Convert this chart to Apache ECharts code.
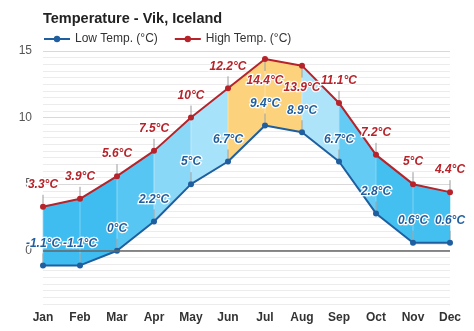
<!DOCTYPE html>
<html>
<head>
<meta charset="utf-8">
<script src="https://cdn.jsdelivr.net/npm/echarts@6/dist/echarts.min.js"></script>
<style>
html,body{margin:0;padding:0;background:#fff;}
#chart{width:474px;height:331px;}
</style>
</head>
<body>
<div id="chart"></div>
<script>
var months = ['Jan','Feb','Mar','Apr','May','Jun','Jul','Aug','Sep','Oct','Nov','Dec'];
var lowTemp = [-1.1, -1.1, 0, 2.2, 5, 6.7, 9.4, 8.9, 6.7, 2.8, 0.6, 0.6];
var highTemp = [3.3, 3.9, 5.6, 7.5, 10, 12.2, 14.4, 13.9, 11.1, 7.2, 5, 4.4];
var yTickLabels = [0, 5, 10, 15];

var highLabelBelow = ['Jul', 'Aug'];
var segColors = ['#3fbdf0','#3fbdf0','#58c6f2','#8ad8f7','#a6e2f9','#fcd37c','#fcd37c','#ade4fa','#64ccf4','#43bff0','#43bff0'];
var LOW_COLOR = '#1f5f9f';
var HIGH_COLOR = '#b7232a';
var FONT = '"Liberation Sans", Arial, sans-serif';

var fillData = [];
for (var i = 0; i < months.length - 1; i++) {
  fillData.push([i, lowTemp[i], highTemp[i], lowTemp[i + 1], highTemp[i + 1]]);
}
var leaderData = [];
for (var j = 0; j < months.length; j++) {
  leaderData.push([j, highTemp[j], highLabelBelow.indexOf(months[j]) >= 0 ? 1 : -1]);
  leaderData.push([j, lowTemp[j], -1]);
}

var splitColors = [];
for (var k = 0; k < 10; k++) splitColors.push(k === 8 ? '#d9d9d9' : '#ececec');

var labelBase = {
  show: true,
  formatter: function (p) { return p.value + '°C'; },
  fontSize: 12,
  fontWeight: 'bold',
  fontStyle: 'italic',
  fontFamily: FONT,
  textBorderColor: '#fff',
  textBorderWidth: 2.5,
  distance: 13
};

var chart = echarts.init(document.getElementById('chart'), null, {renderer: 'canvas'});
chart.setOption({
  animation: false,
  backgroundColor: '#fff',
  title: {
    text: 'Temperature - Vik, Iceland',
    left: 38, top: 6,
    textStyle: {fontSize: 14.5, fontWeight: 'bold', color: '#222', fontFamily: FONT}
  },
  legend: {
    left: 38, top: 28,
    itemWidth: 26, itemHeight: 8, itemGap: 16,
    data: ['Low Temp. (°C)', 'High Temp. (°C)'],
    textStyle: {fontSize: 12, color: '#333', fontFamily: FONT}
  },
  grid: {left: 43, right: 24, top: 51, bottom: 27},
  xAxis: {
    type: 'category',
    data: months,
    boundaryGap: false,
    axisLine: {show: false},
    axisTick: {show: false},
    splitLine: {show: false},
    axisLabel: {fontSize: 12, fontWeight: 'bold', color: '#333', margin: 8, fontFamily: FONT}
  },
  yAxis: {
    type: 'value',
    min: -4, max: 15, interval: 0.5,
    axisLine: {show: false},
    axisTick: {show: false},
    splitLine: {show: true, lineStyle: {color: splitColors, width: 1}},
    axisLabel: {
      fontSize: 12, color: '#555', margin: 11, fontFamily: FONT,
      formatter: function (v) { return yTickLabels.indexOf(v) >= 0 ? String(v) : ''; }
    }
  },
  series: [
    {
      type: 'custom',
      name: 'fill',
      silent: true,
      z: 1,
      data: fillData,
      renderItem: function (params, api) {
        var x0 = api.value(0);
        var a = api.coord([x0, api.value(1)]);
        var b = api.coord([x0 + 1, api.value(3)]);
        var c = api.coord([x0 + 1, api.value(4)]);
        var d = api.coord([x0, api.value(2)]);
        return {
          type: 'group',
          children: [
            {type: 'polygon', shape: {points: [a, b, c, d]},
             style: {fill: segColors[params.dataIndex], stroke: segColors[params.dataIndex], lineWidth: 0.5}},
            {type: 'line', shape: {x1: a[0], y1: a[1], x2: d[0], y2: d[1]},
             style: {stroke: 'rgba(255,255,255,0.35)', lineWidth: 1}}
          ]
        };
      }
    },
    {
      type: 'custom',
      name: 'leaders',
      silent: true,
      z: 2,
      data: leaderData,
      renderItem: function (params, api) {
        var p = api.coord([api.value(0), api.value(1)]);
        var dir = api.value(2);
        return {
          type: 'line',
          shape: {x1: p[0], y1: p[1] + dir * 3, x2: p[0], y2: p[1] + dir * 12},
          style: {stroke: '#9a9a9a', lineWidth: 1}
        };
      }
    },
    {
      name: 'Low Temp. (°C)',
      type: 'line',
      z: 3,
      data: lowTemp,
      symbol: 'circle', symbolSize: 6,
      itemStyle: {color: LOW_COLOR},
      lineStyle: {color: LOW_COLOR, width: 2},
      label: Object.assign({}, labelBase, {position: 'top', color: LOW_COLOR}),
      markLine: {
        silent: true, symbol: 'none', label: {show: false},
        lineStyle: {color: '#666', width: 1.5, type: 'solid'},
        data: [{yAxis: 0}]
      }
    },
    {
      name: 'High Temp. (°C)',
      type: 'line',
      z: 3,
      data: highTemp.map(function (v, i) {
        return highLabelBelow.indexOf(months[i]) >= 0 ? {value: v, label: {position: 'bottom'}} : v;
      }),
      symbol: 'circle', symbolSize: 6,
      itemStyle: {color: HIGH_COLOR},
      lineStyle: {color: HIGH_COLOR, width: 2},
      label: Object.assign({}, labelBase, {position: 'top', color: HIGH_COLOR})
    }
  ]
});
</script>
</body>
</html>
